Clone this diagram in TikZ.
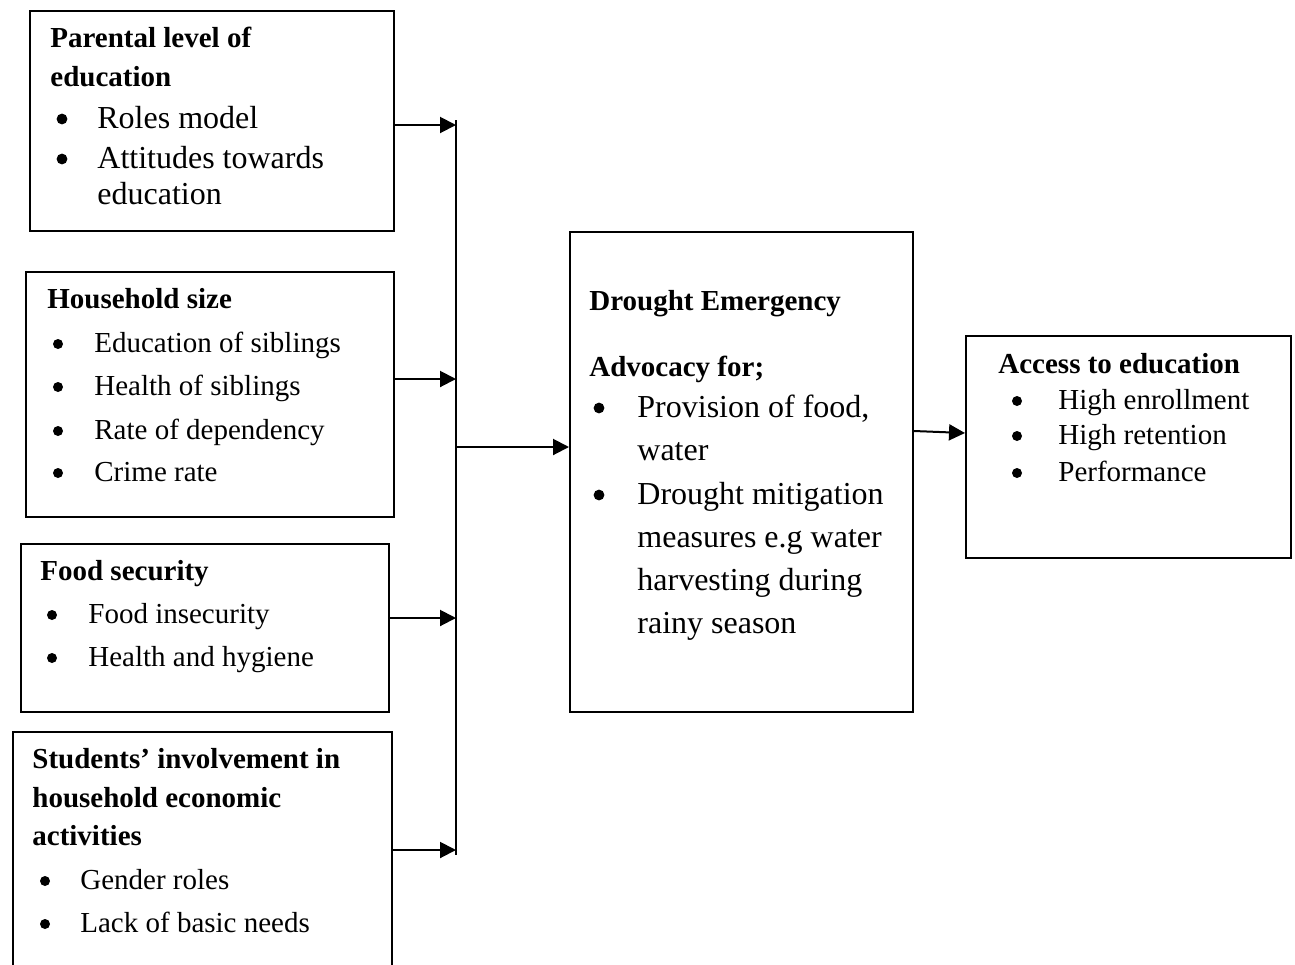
\documentclass[tikz,border=0pt]{standalone}
\usepackage{fontspec}
\setmainfont{Liberation Serif}
\usetikzlibrary{arrows.meta}
\tikzset{
  box/.style={draw,line width=1pt,anchor=north west,inner sep=0pt},
  head/.style={anchor=base west,inner sep=0pt,font=\fontsize{14.5}{17}\selectfont\bfseries},
  txt/.style={anchor=base west,inner sep=0pt,font=\fontsize{14.5}{17}\selectfont},
  bigtxt/.style={anchor=base west,inner sep=0pt,font=\fontsize{16}{19}\selectfont},
  dot/.style={circle,fill,inner sep=0pt,minimum size=5pt},
  bigdot/.style={circle,fill,inner sep=0pt,minimum size=5.4pt},
  link/.style={-{Triangle[length=8pt,width=8pt]},line width=1pt},
}

\begin{document}
\begin{tikzpicture}[x=0.5pt,y=-0.5pt]
\useasboundingbox (0,0) rectangle (1295,964);

%% boxes
\node [box,minimum width=182pt,minimum height=110pt] (par) at (29,10) {};
\node [box,minimum width=184pt,minimum height=122.5pt] (house) at (25,271) {};
\node [box,minimum width=184pt,minimum height=84pt] (food) at (20,543) {};
\node [box,minimum width=189.5pt,minimum height=130pt] (stud) at (12,731) {};
\node [box,minimum width=171.5pt,minimum height=240pt] (drought) at (569,231) {};
\node [box,minimum width=162.5pt,minimum height=111pt] (access) at (965,335) {};

%% parental level of education
\node [head] (par-h1) at (50,47) {Parental level of};
\node [head] (par-h2) at (50,86) {education};
\node [bigdot] (par-d1) at (62,119) {};
\node [bigtxt] (par-t1) at (97,128) {Roles model};
\node [bigdot] (par-d2) at (62,159) {};
\node [bigtxt] (par-t2) at (97,168) {Attitudes towards};
\node [bigtxt] (par-t3) at (97,204) {education};

%% household size
\node [head] (house-h) at (47,308) {Household size};
\node [dot] (house-d1) at (58,344) {};
\node [txt] (house-t1) at (94,352) {Education of siblings};
\node [dot] (house-d2) at (58,387) {};
\node [txt] (house-t2) at (94,395) {Health of siblings};
\node [dot] (house-d3) at (58,431) {};
\node [txt] (house-t3) at (94,439) {Rate of dependency};
\node [dot] (house-d4) at (58,473) {};
\node [txt] (house-t4) at (94,481) {Crime rate};

%% food security
\node [head] (food-h) at (40,580) {Food security};
\node [dot] (food-d1) at (52,615) {};
\node [txt] (food-t1) at (88,623) {Food insecurity};
\node [dot] (food-d2) at (52,658) {};
\node [txt] (food-t2) at (88,666) {Health and hygiene};

%% students' involvement
\node [head] (stud-h1) at (32,768) {Students’ involvement in};
\node [head] (stud-h2) at (32,807) {household economic};
\node [head] (stud-h3) at (32,845) {activities};
\node [dot] (stud-d1) at (45,881) {};
\node [txt] (stud-t1) at (80,889) {Gender roles};
\node [dot] (stud-d2) at (45,924) {};
\node [txt] (stud-t2) at (80,932) {Lack of basic needs};

%% drought emergency
\node [head] (dr-h1) at (589,310) {Drought Emergency};
\node [head] (dr-h2) at (589,376) {Advocacy for;};
\node [bigdot] (dr-d1) at (599,408) {};
\node [bigtxt] (dr-t1) at (637,417) {Provision of food,};
\node [bigtxt] (dr-t2) at (637,460) {water};
\node [bigdot] (dr-d2) at (599,495) {};
\node [bigtxt] (dr-t3) at (637,504) {Drought mitigation};
\node [bigtxt] (dr-t4) at (637,547) {measures e.g water};
\node [bigtxt] (dr-t5) at (637,590) {harvesting during};
\node [bigtxt] (dr-t6) at (637,633) {rainy season};

%% access to education
\node [head] (acc-h) at (998,373) {Access to education};
\node [dot] (acc-d1) at (1017,401) {};
\node [txt] (acc-t1) at (1058,409) {High enrollment};
\node [dot] (acc-d2) at (1017,436) {};
\node [txt] (acc-t2) at (1058,444) {High retention};
\node [dot] (acc-d3) at (1017,473) {};
\node [txt] (acc-t3) at (1058,481) {Performance};

%% connectors
\coordinate (bus-top) at (456,120);
\coordinate (bus-bot) at (456,855);
\coordinate (bus-1) at (456,125);
\coordinate (bus-2) at (456,379);
\coordinate (bus-3) at (456,618);
\coordinate (bus-4) at (456,850);
\coordinate (bus-out) at (456,447);
\coordinate (out-a) at (912,431);
\coordinate (out-b) at (965,433);
\draw [line width=1pt] (bus-top) -- (bus-bot);
\draw [link] ([xshift=-1pt]par.east |- bus-1) -- (bus-1);
\draw [link] ([xshift=-1pt]house.east |- bus-2) -- (bus-2);
\draw [link] ([xshift=-1pt]food.east |- bus-3) -- (bus-3);
\draw [link] ([xshift=-1pt]stud.east |- bus-4) -- (bus-4);
\draw [link] (bus-out) -- (drought.west |- bus-out);
\draw [link] (drought.east |- out-a) -- (access.west |- out-b);

\end{tikzpicture}
\end{document}
